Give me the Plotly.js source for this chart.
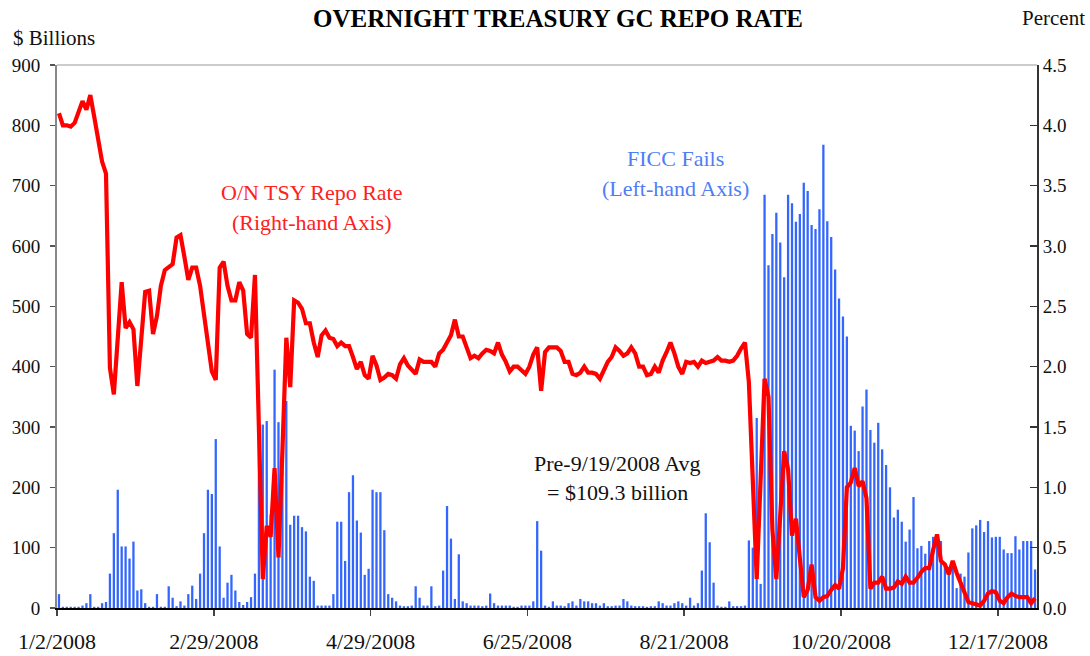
<!DOCTYPE html>
<html>
<head>
<meta charset="utf-8">
<script src="https://cdn.plot.ly/plotly-3.0.1.min.js"></script>
<style>html,body{margin:0;padding:0;background:#fff;}#chart{width:1090px;height:656px;}</style>
</head>
<body>
<div id="chart"></div>
<script>
// Tick labels on the trading-day axis (one label every 40 trading days)
const tickLabels = ["1/2/2008", "2/29/2008", "4/29/2008", "6/25/2008", "8/21/2008", "10/20/2008", "12/17/2008"];
const tickEvery = 40;

// FICC fails, $ billions (left axis), one value per trading day of 2008
const failsJanApr = [23, 2, 2, 2, 2, 2, 4, 8, 23, 2, 2, 8, 10, 57, 124, 196, 102, 102, 82, 110, 29, 31, 8, 2, 2, 23, 2, 2, 36, 17, 3, 11, 4, 23, 37, 15, 57, 124, 196, 189,
  280, 102, 17, 42, 55, 29, 10, 5, 10, 18, 57, 308, 304, 310, 155, 395, 308, 290, 343, 138, 153, 153, 134, 127, 52, 45, 4, 4, 4, 4, 23, 143, 143, 78, 192, 220, 145, 125, 55, 65];
const failsMayAug = [196, 192, 192, 129, 23, 17, 11, 4, 3, 3, 4, 36, 17, 4, 4, 36, 3, 4, 62, 169, 115, 15, 89, 11, 8, 4, 4, 4, 3, 4, 24, 8, 4, 4, 4, 4, 2, 2, 4, 4,
  4, 11, 144, 95, 4, 2, 11, 4, 4, 3, 8, 11, 4, 15, 11, 11, 8, 8, 4, 8, 3, 3, 4, 4, 15, 11, 4, 3, 3, 3, 2, 3, 3, 11, 8, 4, 4, 8, 11, 8];
const failsSepDec = [4, 17, 4, 8, 62, 157, 109, 42, 4, 2, 2, 11, 3, 3, 3, 4, 112, 100, 315, 40, 685, 568, 620, 655, 606, 548, 685, 671, 640, 653, 705, 691, 635, 628, 661, 768, 641, 615, 561, 513,
  483, 450, 302, 294, 260, 334, 362, 295, 274, 307, 263, 237, 200, 150, 163, 143, 110, 130, 184, 99, 103, 90, 111, 118, 118, 111, 75, 68, 75, 33, 57, 52, 92, 132, 137, 146, 126, 144, 117, 118, 118, 97, 91, 91, 119, 97, 111, 111, 111, 64];

// O/N Treasury GC repo rate, percent (right axis)
const rateJanApr = [4.1, 4.0, 4.0, 3.99, 4.02, 4.1, 4.2, 4.13, 4.25, 4.07, 3.89, 3.7, 3.6, 1.99, 1.77, 2.29, 2.7, 2.32, 2.37, 2.31, 1.84, 2.23, 2.62, 2.63, 2.27, 2.42, 2.67, 2.8, 2.82, 2.85, 3.07, 3.09, 2.91, 2.72, 2.82, 2.82, 2.67, 2.44, 2.17, 1.96,
  1.89, 2.82, 2.87, 2.67, 2.55, 2.55, 2.7, 2.63, 2.27, 2.24, 2.76, 1.5, 0.24, 0.68, 0.59, 1.16, 0.42, 1.3, 2.24, 1.83, 2.55, 2.53, 2.48, 2.36, 2.36, 2.2, 2.08, 2.26, 2.3, 2.24, 2.23, 2.17, 2.2, 2.17, 2.17, 2.08, 1.98, 2.04, 1.93, 1.9];
const rateMayAug = [2.09, 2.01, 1.89, 1.91, 1.94, 1.93, 1.9, 2.02, 2.07, 2.01, 1.98, 1.94, 2.06, 2.04, 2.04, 2.04, 2.0, 2.11, 2.14, 2.2, 2.26, 2.39, 2.25, 2.25, 2.15, 2.07, 2.09, 2.07, 2.11, 2.14, 2.13, 2.11, 2.2, 2.1, 2.04, 1.96, 2.0, 2.0, 1.97, 1.94,
  2.0, 2.1, 2.16, 1.8, 2.12, 2.16, 2.16, 2.16, 2.13, 2.04, 2.04, 1.94, 1.93, 1.95, 2.0, 1.95, 1.95, 1.94, 1.9, 1.97, 2.04, 2.08, 2.16, 2.13, 2.09, 2.11, 2.16, 2.11, 2.0, 2.0, 1.93, 1.94, 2.0, 1.95, 2.05, 2.12, 2.2, 2.11, 2.0, 1.94];
const rateSepDec = [2.04, 2.03, 2.04, 2.0, 2.05, 2.03, 2.04, 2.05, 2.08, 2.05, 2.05, 2.04, 2.05, 2.09, 2.15, 2.2, 1.87, 1.0, 0.24, 1.07, 1.9, 1.75, 0.65, 0.24, 0.79, 1.3, 1.15, 0.6, 0.74, 0.4, 0.09, 0.15, 0.36, 0.09, 0.06, 0.09, 0.1, 0.15, 0.19, 0.16,
  0.33, 1.0, 1.04, 1.16, 1.01, 1.05, 0.91, 0.16, 0.21, 0.21, 0.26, 0.16, 0.16, 0.17, 0.22, 0.2, 0.26, 0.21, 0.21, 0.25, 0.3, 0.33, 0.33, 0.48, 0.61, 0.39, 0.36, 0.28, 0.39, 0.29, 0.21, 0.12, 0.05, 0.04, 0.03, 0.02, 0.06, 0.12, 0.14, 0.13, 0.06, 0.04, 0.09, 0.12, 0.1, 0.09, 0.09, 0.09, 0.04, 0.08];

const fails = failsJanApr.concat(failsMayAug, failsSepDec);
const rate = rateJanApr.concat(rateMayAug, rateSepDec);
const day = fails.map((_, i) => i);          // trading-day index
const tickVals = tickLabels.map((_, k) => k * tickEvery - 0.5);

const serif = "Liberation Serif, Times New Roman, serif";

const traces = [
  {
    type: "bar", x: day, y: fails, yaxis: "y",
    marker: {color: "#3366ff", line: {width: 0}},
    hoverinfo: "skip"
  },
  {
    type: "scatter", mode: "lines", x: day, y: rate, yaxis: "y2",
    line: {color: "#ff0000", width: 4.2},
    hoverinfo: "skip"
  }
];

function px(x) { return (x - 57) / 980; }
function py(y) { return (608 - y) / 543; }

const annFont = (c) => ({family: serif, size: 22, color: c});

const layout = {
  width: 1090, height: 656,
  margin: {l: 57, r: 53, t: 65, b: 48, pad: 0},
  paper_bgcolor: "#ffffff", plot_bgcolor: "#ffffff",
  showlegend: false,
  bargap: 0.42,
  font: {family: serif, color: "#111"},
  title: {
    text: "<b>OVERNIGHT TREASURY GC REPO RATE</b>",
    font: {family: serif, size: 25, color: "#000"},
    x: 0.512, xanchor: "center", y: 1 - 18 / 656, yanchor: "middle"
  },
  xaxis: {
    range: [-0.5, fails.length - 0.5],
    tickmode: "array", tickvals: tickVals, ticktext: tickLabels,
    ticks: "outside", ticklen: 6, tickwidth: 1.5, tickcolor: "#444",
    showline: true, linecolor: "#000", linewidth: 2,
    showgrid: false, zeroline: false,
    tickfont: {family: serif, size: 22, color: "#111"},
    ticklabelstandoff: 7
  },
  yaxis: {
    range: [0, 900], tick0: 0, dtick: 100,
    ticks: "outside", ticklen: 5, tickwidth: 1.5, tickcolor: "#555",
    showline: true, linecolor: "#888", linewidth: 2,
    showgrid: false, zeroline: false,
    tickfont: {family: serif, size: 19, color: "#111"},
    ticklabelstandoff: 6
  },
  yaxis2: {
    overlaying: "y", side: "right",
    range: [0, 4.5], tick0: 0, dtick: 0.5, tickformat: ".1f",
    ticks: "inside", ticklen: 7, tickwidth: 1.5, tickcolor: "#333",
    showline: true, linecolor: "#333", linewidth: 2,
    showgrid: false, zeroline: false,
    tickfont: {family: serif, size: 19, color: "#111"}
  },
  shapes: [
    {type: "line", xref: "paper", yref: "paper", x0: 0, x1: 1, y0: 1, y1: 1,
     line: {color: "#cccccc", width: 2}}
  ],
  annotations: [
    {text: "$ Billions", xref: "paper", yref: "paper", x: px(11), y: py(38), xanchor: "left", yanchor: "middle", showarrow: false,
     font: {family: serif, size: 21, color: "#111"}},
    {text: "Percent", xref: "paper", yref: "paper", x: px(1087), y: py(18), xanchor: "right", yanchor: "middle", showarrow: false,
     font: {family: serif, size: 21, color: "#111"}},
    {text: "O/N TSY Repo Rate", xref: "paper", yref: "paper", x: px(312), y: py(193), xanchor: "center", yanchor: "middle", showarrow: false,
     font: annFont("#ff2020")},
    {text: "(Right-hand Axis)", xref: "paper", yref: "paper", x: px(312), y: py(222), xanchor: "center", yanchor: "middle", showarrow: false,
     font: annFont("#ff2020")},
    {text: "FICC Fails", xref: "paper", yref: "paper", x: px(675), y: py(158), xanchor: "center", yanchor: "middle", showarrow: false,
     font: annFont("#4f7df5")},
    {text: "(Left-hand Axis)", xref: "paper", yref: "paper", x: px(675), y: py(188), xanchor: "center", yanchor: "middle", showarrow: false,
     font: annFont("#4f7df5")},
    {text: "Pre-9/19/2008 Avg", xref: "paper", yref: "paper", x: px(617), y: py(463), xanchor: "center", yanchor: "middle", showarrow: false,
     font: annFont("#111")},
    {text: "= $109.3 billion", xref: "paper", yref: "paper", x: px(617), y: py(492), xanchor: "center", yanchor: "middle", showarrow: false,
     font: annFont("#111")}
  ]
};

Plotly.newPlot("chart", traces, layout, {staticPlot: true, displayModeBar: false});
</script>
</body>
</html>
